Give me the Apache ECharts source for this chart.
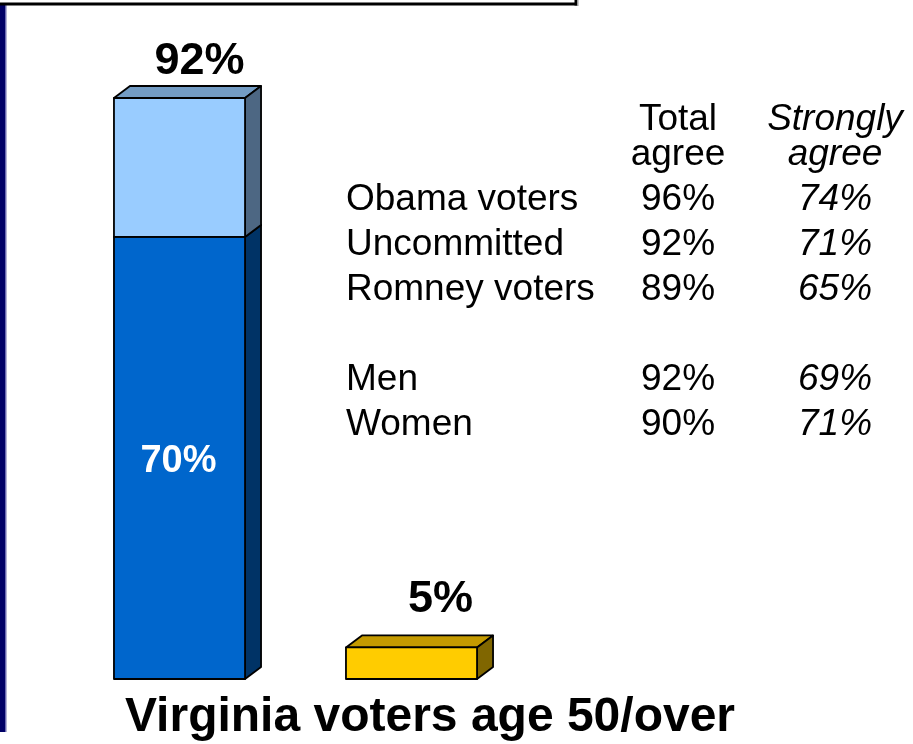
<!DOCTYPE html>
<html>
<head>
<meta charset="utf-8">
<script src="https://cdn.jsdelivr.net/npm/echarts@6/dist/echarts.min.js"></script>
<style>
html,body{margin:0;padding:0;background:#fff;}
#chart{width:913px;height:744px;}
</style>
</head>
<body>
<div id="chart"></div>
<script>
// ---------- data ----------
const categories = ['Agree', 'Disagree'];
const stronglyAgree = [70, null];
const somewhatAgree = [22, null];
const disagree = [null, 5];

const tableHeaders = [['Total', 'agree'], ['Strongly', 'agree']];
const groups = ['Obama voters', 'Uncommitted', 'Romney voters', '', 'Men', 'Women'];
const totalAgree = ['96%', '92%', '89%', '', '92%', '90%'];
const stronglyAgreeByGroup = ['74%', '71%', '65%', '', '69%', '71%'];

const titleText = 'Virginia voters age 50/over';

// ---------- styling ----------
const FONT = '"Liberation Sans", Arial, Helvetica, sans-serif';
const DEPTH_X = 16, DEPTH_Y = 12;
const BAR_RATIO = 0.565;
const VA = 3.5; // vertical correction for middle-aligned text

function make3DRender(colors, labelCfg) {
  return function (params, api) {
    const idx = api.value(0);
    const lo = api.value(1);
    const hi = api.value(2);
    const pLo = api.coord([idx, lo]);
    const pHi = api.coord([idx, hi]);
    const band = api.size([1, 0])[0];
    const w = band * BAR_RATIO;
    const l = pLo[0] - w / 2, r = l + w;
    const t = pHi[1], b = pLo[1];
    const line = { stroke: '#000', lineWidth: 1.8, lineJoin: 'round' };
    const children = [
      { type: 'polygon', shape: { points: [[l, t], [r, t], [r + DEPTH_X, t - DEPTH_Y], [l + DEPTH_X, t - DEPTH_Y]] },
        style: Object.assign({ fill: colors.top }, line) },
      { type: 'polygon', shape: { points: [[r, t], [r + DEPTH_X, t - DEPTH_Y], [r + DEPTH_X, b - DEPTH_Y], [r, b]] },
        style: Object.assign({ fill: colors.side }, line) },
      { type: 'rect', shape: { x: l, y: t, width: w, height: b - t },
        style: Object.assign({ fill: colors.front }, line) }
    ];
    if (labelCfg) {
      let lx, ly;
      if (labelCfg.inside) {
        lx = (l + r) / 2 + labelCfg.dx;
        ly = (t + b) / 2 + labelCfg.dy;
      } else {
        lx = (l + r) / 2 + labelCfg.dx;
        ly = t + labelCfg.dy;
      }
      children.push({
        type: 'text',
        style: {
          text: Math.round(labelCfg.inside ? hi - lo : hi) + '%',
          x: lx, y: ly + VA,
          align: 'center', verticalAlign: 'middle',
          font: 'bold ' + labelCfg.size + 'px ' + FONT,
          fill: labelCfg.color
        }
      });
    }
    return { type: 'group', children: children };
  };
}

function toItems(values, bases) {
  const out = [];
  values.forEach(function (v, i) {
    if (v == null) return;
    const base = bases ? (bases[i] || 0) : 0;
    out.push([i, base, base + v]);
  });
  return out;
}

// ---------- decorations & table ----------
const graphic = [];
graphic.push({ type: 'rect', shape: { x: 0, y: 5, width: 5, height: 727 }, style: { fill: '#000066' } });
graphic.push({ type: 'rect', shape: { x: 5, y: 5, width: 1.5, height: 727 }, style: { fill: '#6a6ab0' } });
graphic.push({ type: 'rect', shape: { x: 0, y: 2.5, width: 577, height: 3 }, style: { fill: '#000' } });
graphic.push({ type: 'rect', shape: { x: 574.5, y: 0, width: 2.5, height: 5.5 }, style: { fill: '#000' } });
graphic.push({ type: 'rect', shape: { x: 577, y: 0, width: 1.5, height: 6 }, style: { fill: '#9a9a9a' } });

const TFS = 37;
const colX = [346, 678, 835];
const headerY = [116, 151];
const rowY0 = 196, rowStep = 45.1;
tableHeaders.forEach(function (h, c) {
  h.forEach(function (txt, k) {
    graphic.push({ type: 'text', style: {
      text: txt, x: colX[c + 1], y: headerY[k] + VA, align: 'center', verticalAlign: 'middle',
      font: (c === 1 ? 'italic ' : '') + TFS + 'px ' + FONT, fill: '#000' } });
  });
});
groups.forEach(function (g, i) {
  const y = rowY0 + i * rowStep + VA;
  if (g) graphic.push({ type: 'text', style: { text: g, x: colX[0], y: y, align: 'left', verticalAlign: 'middle',
    font: TFS + 'px ' + FONT, fill: '#000' } });
  if (totalAgree[i]) graphic.push({ type: 'text', style: { text: totalAgree[i], x: colX[1], y: y, align: 'center', verticalAlign: 'middle',
    font: TFS + 'px ' + FONT, fill: '#000' } });
  if (stronglyAgreeByGroup[i]) graphic.push({ type: 'text', style: { text: stronglyAgreeByGroup[i], x: colX[2], y: y, align: 'center', verticalAlign: 'middle',
    font: 'italic ' + TFS + 'px ' + FONT, fill: '#000' } });
});
graphic.push({ type: 'text', style: { text: titleText, x: 430, y: 714 + VA, align: 'center', verticalAlign: 'middle',
  font: 'bold 48px ' + FONT, fill: '#000' } });

const chart = echarts.init(document.getElementById('chart'), null, { renderer: 'canvas' });
chart.setOption({
  backgroundColor: '#fff',
  animation: false,
  grid: { left: 63.5, right: 385.5, top: 47.5, bottom: 65 },
  xAxis: { type: 'category', data: categories, boundaryGap: true, show: false },
  yAxis: { type: 'value', min: 0, max: 100, show: false },
  graphic: graphic,
  series: [
    { name: 'Strongly agree', type: 'custom', data: toItems(stronglyAgree),
      renderItem: make3DRender({ front: '#0066CC', top: '#1f5fa8', side: '#003366' },
        { inside: true, dx: -1, dy: 0, size: 38, color: '#fff' }),
      encode: { x: 0, y: [1, 2] } },
    { name: 'Somewhat agree', type: 'custom', data: toItems(somewhatAgree, stronglyAgree),
      renderItem: make3DRender({ front: '#99CCFF', top: '#739CC4', side: '#4D6783' },
        { inside: false, dx: 20, dy: -40, size: 45, color: '#000' }),
      encode: { x: 0, y: [1, 2] } },
    { name: 'Disagree', type: 'custom', data: toItems(disagree),
      renderItem: make3DRender({ front: '#FFCC00', top: '#C49A00', side: '#806600' },
        { inside: false, dx: 29, dy: -51, size: 45, color: '#000' }),
      encode: { x: 0, y: [1, 2] } }
  ]
});
</script>
</body>
</html>
